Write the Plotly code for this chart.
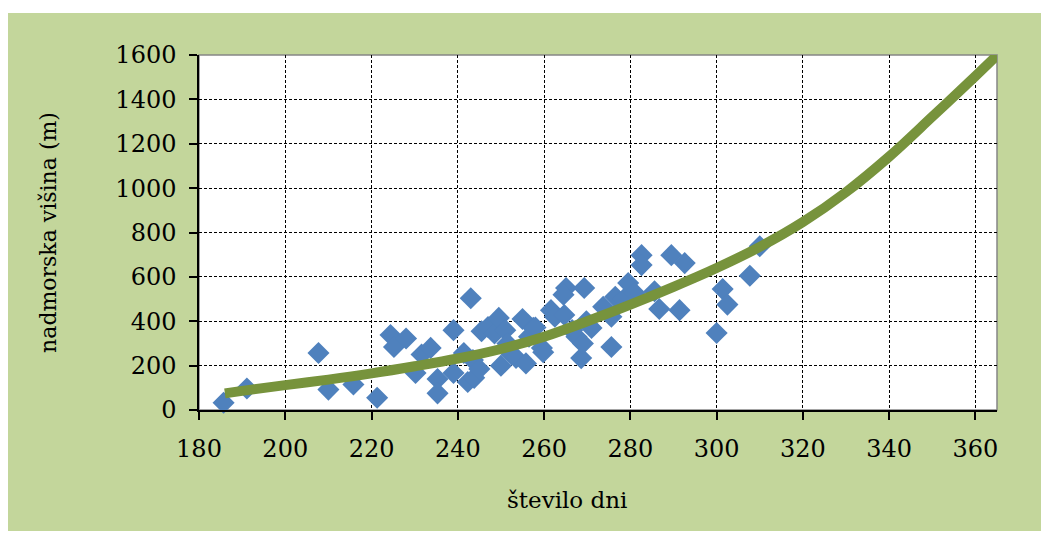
import plotly.graph_objects as go

# scatter observations (number of days, altitude in m)
days = [185.7, 191.1, 207.7, 210.0, 215.8, 221.3, 224.4, 225.2, 228.0, 230.2,
        231.6, 233.7, 235.3, 235.3, 239.0, 239.0, 241.4, 242.3, 243.0, 243.5,
        243.8, 245.0, 245.5, 247.0, 248.5, 249.5, 250.0, 251.0, 251.5, 252.5,
        253.5, 255.0, 255.8, 256.5, 257.5, 258.0, 259.5, 259.8, 261.6, 262.5,
        264.7, 265.1, 264.5, 266.5, 267.5, 268.6, 269.0, 269.3, 269.8, 271.0,
        273.7, 275.6, 275.6, 276.5, 278.5, 279.5, 281.0, 282.6, 282.6, 285.6,
        286.7, 289.5, 291.4, 292.6, 300.0, 301.4, 302.5, 307.7, 310.0]
altitude = [33, 97, 257, 92, 115, 55, 338, 284, 322, 167,
            250, 280, 140, 75, 360, 167, 257, 126, 504, 225,
            145, 185, 355, 374, 345, 415, 200, 360, 300, 250,
            235, 410, 210, 330, 370, 372, 280, 260, 450, 420,
            428, 550, 520, 360, 330, 234, 300, 550, 400, 370,
            465, 284, 420, 510, 500, 572, 527, 698, 653, 535,
            455, 698, 450, 662, 347, 545, 475, 605, 738]

# trend line
trend_days = [186, 190, 200, 210, 220, 230, 240, 250, 260, 270, 280, 290,
              300, 310, 320, 330, 340, 350, 360, 365]
trend_alt = [75, 86, 112, 137, 165, 197, 232, 275, 330, 400, 475, 555,
             640, 735, 847, 982, 1142, 1322, 1505, 1598]

x_ticks = [180, 200, 220, 240, 260, 280, 300, 320, 340, 360]
y_ticks = [0, 200, 400, 600, 800, 1000, 1200, 1400, 1600]

FONT = "DejaVu Serif"
GREEN_BG = "#C3D69B"

fig = go.Figure()
fig.add_trace(go.Scatter(
    x=days, y=altitude, mode="markers",
    marker=dict(symbol="diamond", size=17, color="#4F81BD",
                line=dict(width=0)),
    showlegend=False, cliponaxis=False))
fig.add_trace(go.Scatter(
    x=trend_days, y=trend_alt, mode="lines",
    line=dict(color="#77933C", width=10, shape="spline"),
    showlegend=False, cliponaxis=False))

# page body adds an 8px offset at top/left; compensate
OFF = 8
W, H = 1049 - OFF, 537 - OFF
L, T = 199 - OFF, 55 - OFF
R = 1049 - 997
B = 537 - 410
pw, ph = W - L - R, H - T - B

def px_x(p):
    return (p - OFF - L) / pw

def px_y(p):
    return (H - B - (p - OFF)) / ph

fig.update_layout(
    width=W, height=H,
    margin=dict(l=L, r=R, t=T, b=B),
    paper_bgcolor="white",
    plot_bgcolor="white",
    font=dict(family=FONT, size=22, color="black"),
    shapes=[
        dict(type="rect", xref="paper", yref="paper", layer="below",
             x0=px_x(7), x1=px_x(1060), y0=px_y(531), y1=px_y(13),
             fillcolor=GREEN_BG, line=dict(width=0)),
        dict(type="rect", xref="paper", yref="paper", layer="below",
             x0=0, x1=1, y0=0, y1=1,
             fillcolor="white", line=dict(color="#868686", width=1.5)),
    ],
    annotations=[
        dict(text="število dni", xref="paper", yref="paper",
             x=px_x(567), y=px_y(500), xanchor="center", yanchor="middle",
             showarrow=False, font=dict(family=FONT, size=23, color="black")),
    ],
    xaxis=dict(
        range=[180, 365], tickvals=x_ticks,
        showgrid=True, gridcolor="black", gridwidth=1, griddash="3px,2px",
        zeroline=False, showline=True, linecolor="black", linewidth=1.5,
        ticks="outside", ticklen=8, tickcolor="black", tickwidth=1.5,
        ticklabelstandoff=8,
        tickfont=dict(family=FONT, size=24)),
    yaxis=dict(
        range=[0, 1600], tickvals=y_ticks,
        showgrid=True, gridcolor="black", gridwidth=1, griddash="3px,2px",
        zeroline=False, showline=True, linecolor="black", linewidth=1.5,
        ticks="outside", ticklen=8, tickcolor="black", tickwidth=1.5,
        ticklabelstandoff=8,
        title=dict(text="nadmorska višina (m)", font=dict(family=FONT, size=22),
                   standoff=53),
        tickfont=dict(family=FONT, size=24)),
)

fig.write_html("out.html")
